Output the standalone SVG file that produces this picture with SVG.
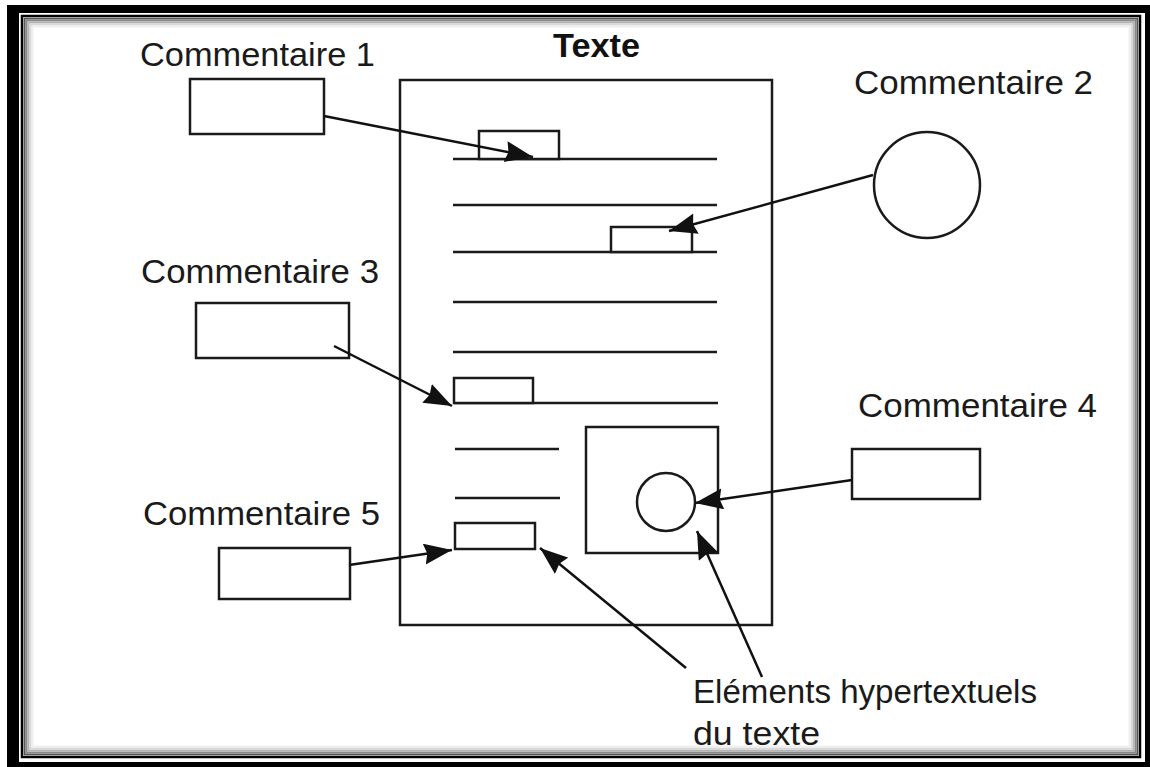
<svg xmlns="http://www.w3.org/2000/svg" width="1150" height="767" viewBox="0 0 1150 767">
<defs>
<style>
.shape{fill:#fff;stroke:#1a1a1a;stroke-width:2.5}
.ln{stroke:#1a1a1a;stroke-width:2.5;fill:none}
.conn{stroke:#111;stroke-width:2.5;fill:none;marker-end:url(#ah)}
.lbl{font-family:"Liberation Sans",Arial,sans-serif;font-size:33px;fill:#1a1a1a}
.ttl{font-family:"Liberation Sans",Arial,sans-serif;font-size:33px;font-weight:bold;fill:#111}
</style>
<marker id="ah" markerUnits="userSpaceOnUse" markerWidth="30" markerHeight="22" refX="28" refY="10.5" orient="auto">
<path d="M0,0 L28,10.5 L0,21 L3,10.5 z" fill="#111"/>
</marker>
</defs>
<rect width="1150" height="767" fill="#fff"/>
<g id="frame">
<rect x="7" y="5" width="1143" height="762" fill="#000"/>
<rect x="19" y="13" width="1126" height="749" fill="#fff"/>
<rect x="22" y="16" width="1118" height="741" fill="none" stroke="#000" stroke-width="2.5"/>
<rect x="23.25" y="17.25" width="1115.5" height="738.5" fill="#fff"/>
<rect x="24.5" y="18.5" width="1113" height="736" fill="none" stroke="#555" stroke-width="2"/>
<rect x="26.5" y="20.5" width="1109" height="732" fill="none" stroke="#888" stroke-width="2"/>
<rect x="28.5" y="22.5" width="1105" height="728" fill="none" stroke="#b4b4b4" stroke-width="2"/>
<rect x="30.5" y="24.5" width="1101" height="724" fill="none" stroke="#d8d8d8" stroke-width="2"/>
<rect x="32.5" y="26.5" width="1097" height="720" fill="none" stroke="#efefef" stroke-width="2"/>
</g>
<g id="texte">
<text class="ttl" x="553" y="57" textLength="87" lengthAdjust="spacingAndGlyphs">Texte</text>
<rect class="shape" x="400" y="80" width="372" height="545"/>
<line class="ln" x1="453" y1="159" x2="717" y2="159"/>
<line class="ln" x1="453" y1="205" x2="717" y2="205"/>
<line class="ln" x1="453" y1="252" x2="717" y2="252"/>
<line class="ln" x1="453" y1="302" x2="717" y2="302"/>
<line class="ln" x1="453" y1="352" x2="717" y2="352"/>
<line class="ln" x1="454" y1="403" x2="718" y2="403"/>
<line class="ln" x1="455" y1="449" x2="559" y2="449"/>
<line class="ln" x1="455" y1="498" x2="560" y2="498"/>
</g>
<g id="h1"><rect class="shape" x="479" y="131" width="80" height="28"/></g>
<g id="h2"><rect class="shape" x="611" y="227" width="81" height="25"/></g>
<g id="h3"><rect class="shape" x="454" y="378" width="79" height="25"/></g>
<g id="h4"><rect class="shape" x="586" y="427" width="132" height="126"/><circle class="shape" cx="666" cy="502" r="29"/></g>
<g id="h5"><rect class="shape" x="455" y="523" width="80" height="26"/></g>
<g id="c1">
<text class="lbl" x="140" y="66" textLength="235" lengthAdjust="spacingAndGlyphs">Commentaire 1</text>
<rect class="shape" x="190" y="79" width="134" height="55"/>
</g>
<g id="c2">
<text class="lbl" x="854" y="94" textLength="239" lengthAdjust="spacingAndGlyphs">Commentaire 2</text>
<circle class="shape" cx="927" cy="185" r="53"/>
</g>
<g id="c3">
<text class="lbl" x="141" y="283" textLength="238" lengthAdjust="spacingAndGlyphs">Commentaire 3</text>
<rect class="shape" x="196" y="303" width="153" height="55"/>
</g>
<g id="c4">
<text class="lbl" x="858" y="417" textLength="239" lengthAdjust="spacingAndGlyphs">Commentaire 4</text>
<rect class="shape" x="852" y="449" width="128" height="50"/>
</g>
<g id="c5">
<text class="lbl" x="143" y="525" textLength="237" lengthAdjust="spacingAndGlyphs">Commentaire 5</text>
<rect class="shape" x="219" y="548" width="131" height="51"/>
</g>
<g id="elements">
<text class="lbl" x="693" y="703" textLength="344" lengthAdjust="spacingAndGlyphs">Eléments hypertextuels</text>
<text class="lbl" x="693" y="745" textLength="127" lengthAdjust="spacingAndGlyphs">du texte</text>
</g>
<g id="connectors">
<line class="conn" x1="324" y1="116" x2="533" y2="157"/>
<line class="conn" x1="873" y1="175" x2="669" y2="231"/>
<line class="conn" x1="334" y1="346" x2="452" y2="406"/>
<line class="conn" x1="852" y1="480" x2="695" y2="503"/>
<line class="conn" x1="349" y1="565" x2="452" y2="550"/>
<line class="conn" x1="686" y1="668" x2="540" y2="548"/>
<line class="conn" x1="762" y1="677" x2="697" y2="531"/>
</g>
</svg>
